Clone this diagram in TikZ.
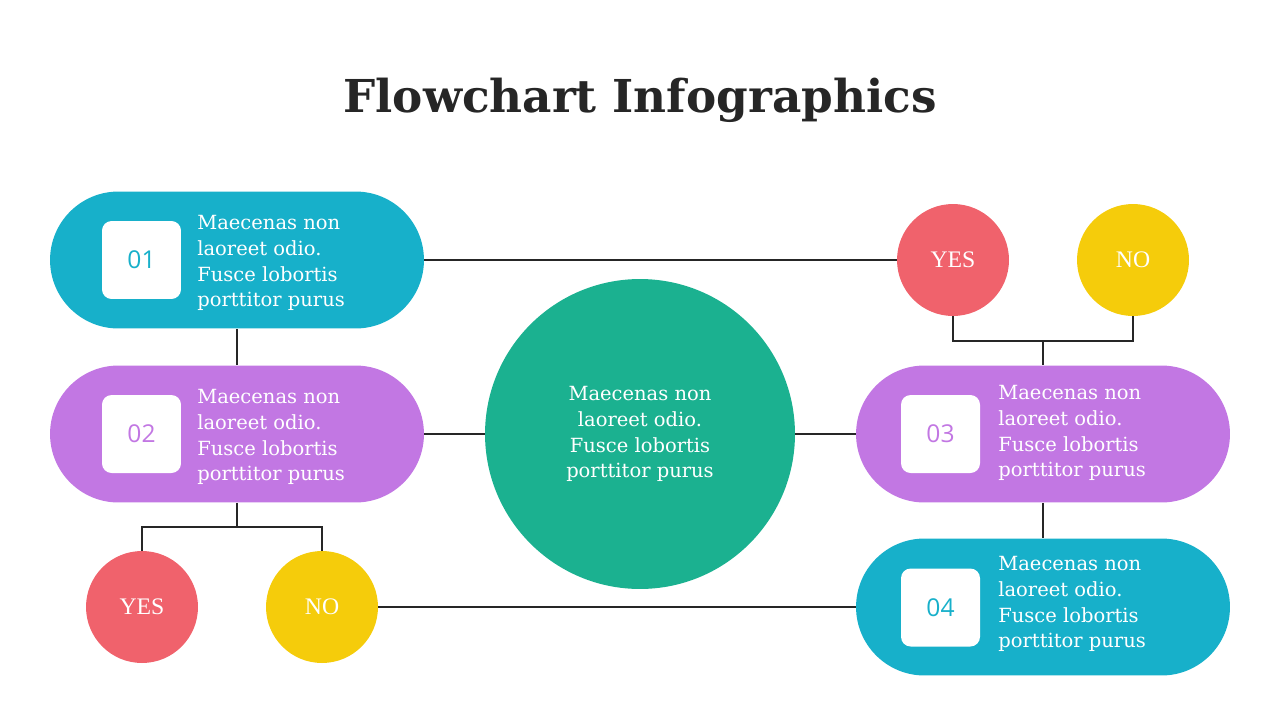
\documentclass[tikz,border=0pt]{standalone}
\usepackage{fontspec}
\setmainfont{DejaVu Serif}
\newfontfamily\titlefont{DejaVu Serif}
\newfontfamily\answerfont{Liberation Serif}
\newfontfamily\numfont{Open Sans}
\usetikzlibrary{positioning,shapes.misc}

\definecolor{cteal}{HTML}{17B0CA}
\definecolor{cpurple}{HTML}{C277E3}
\definecolor{cgreen}{HTML}{1BB190}
\definecolor{cred}{HTML}{F0626C}
\definecolor{cyellow}{HTML}{F5CC0B}
\definecolor{cline}{HTML}{262626}

\begin{document}
\begin{tikzpicture}[x=0.02cm, y=-0.02cm,
  pill/.style={rounded rectangle, minimum width=7.48cm, minimum height=2.74cm, inner sep=0pt},
  numbox/.style={fill=white, rounded corners=5.5pt, minimum width=1.58cm, minimum height=1.56cm, inner sep=0pt, font=\numfont\fontsize{14}{16}\selectfont},
  txt/.style={text=white, align=left, anchor=west, inner sep=0pt, font=\fontsize{11.1}{14.7}\selectfont},
  answer/.style={circle, minimum size=2.24cm, inner sep=0pt, text=white, font=\answerfont\fontsize{13.5}{16}\selectfont},
  line/.style={draw=cline, line width=1.1pt}]
  \useasboundingbox (0,0) rectangle (1280,720);

  \node[font=\titlefont\bfseries\fontsize{25.8}{30}\selectfont, text=cline] (title) at (640,100) {Flowchart Infographics};

  % left side
  \node[pill, fill=cteal] (p1) at (237,260) {};
  \node[numbox, text=cteal] (n01) at (141.5,260) {01};
  \node[txt] (t1) at (197,263) {Maecenas non\\laoreet odio.\\Fusce lobortis\\porttitor purus};

  \node[pill, fill=cpurple] (p2) at (237,434) {};
  \node[numbox, text=cpurple] (n02) at (141.5,434) {02};
  \node[txt] (t2) at (197,437) {Maecenas non\\laoreet odio.\\Fusce lobortis\\porttitor purus};

  \node[answer, fill=cred] (yes2) at (142,607) {YES};
  \node[answer, fill=cyellow] (no2) at (322,607) {NO};

  % centre
  \node[circle, fill=cgreen, minimum size=6.2cm, inner sep=0pt, text=white, align=center, font=\fontsize{11.1}{14.7}\selectfont] (hub) at (640,434) {Maecenas non\\laoreet odio.\\Fusce lobortis\\porttitor purus};

  % right side
  \node[answer, fill=cred] (yes1) at (953,260) {YES};
  \node[answer, fill=cyellow] (no1) at (1133,260) {NO};

  \node[pill, fill=cpurple] (p3) at (1043,434) {};
  \node[numbox, text=cpurple] (n03) at (940.5,434) {03};
  \node[txt] (t3) at (998,433) {Maecenas non\\laoreet odio.\\Fusce lobortis\\porttitor purus};

  \node[pill, fill=cteal] (p4) at (1043,607) {};
  \node[numbox, text=cteal] (n04) at (940.5,607.5) {04};
  \node[txt] (t4) at (998,604) {Maecenas non\\laoreet odio.\\Fusce lobortis\\porttitor purus};

  \coordinate (jr) at (1043,341);
  \coordinate (jl) at (237,527);

  \draw[line] (p1.east) -- (yes1.west);
  \draw[line] (p1.south) -- (p2.north);
  \draw[line] (p2.east) -- (hub.west);
  \draw[line] (hub.east) -- (p3.west);
  \draw[line] (p3.south) -- (p4.north);
  \draw[line] (yes1.south) |- (jr) -| (no1.south);
  \draw[line] (jr) -- (p3.north);
  \draw[line] (p2.south) -- (jl);
  \draw[line] (yes2.north) |- (jl) -| (no2.north);
  \draw[line] (no2.east) -- (p4.west);
\end{tikzpicture}
\end{document}
